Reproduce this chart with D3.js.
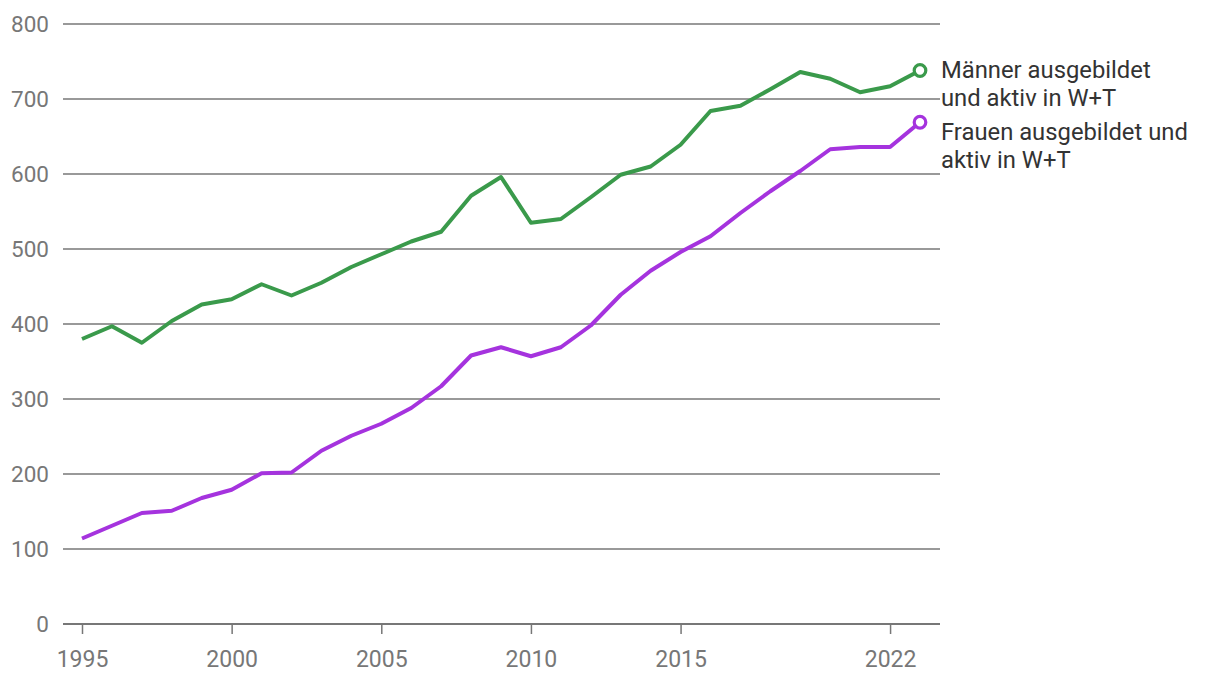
<!DOCTYPE html>
<html>
<head>
<meta charset="utf-8">
<script src="https://cdn.jsdelivr.net/npm/d3@7"></script>
<style>
  body { margin: 0; background: #fff; }
  svg { font-family: Roboto, sans-serif; }
</style>
</head>
<body>
<div id="chart"></div>
<script>
var years = d3.range(1995, 2024);
var maenner = [380, 397, 375, 404, 426, 433, 453, 438, 455, 476, 493, 510, 523, 571, 596,
               535, 540, 569, 599, 610, 639, 684, 691, 713, 736, 727, 709, 717, 738];
var frauen  = [114, 131, 148, 151, 168, 179, 201, 202, 231, 251, 267, 288, 317, 358, 369,
               357, 369, 398, 439, 471, 496, 517, 548, 577, 604, 633, 636, 636, 669];
var xTicks = [1995, 2000, 2005, 2010, 2015, 2022];
var yTicks = [0, 100, 200, 300, 400, 500, 600, 700, 800];
var seriesNames = [["Männer ausgebildet", "und aktiv in W+T"], ["Frauen ausgebildet und", "aktiv in W+T"]];
var seriesColors = ["#3a9a4b", "#a533de"];

var svg = d3.select("#chart").append("svg")
            .attr("width", 1220)
            .attr("height", 684);

var x = d3.scaleLinear().domain([1995, 2023]).range([82, 920]);
var y = d3.scaleLinear().domain([0, 800]).range([624, 24]);

// grid lines
svg.append("g").selectAll("line")
   .data(yTicks)
   .join("line")
   .attr("x1", 63)
   .attr("x2", 940)
   .attr("y1", function(d){ return y(d); })
   .attr("y2", function(d){ return y(d); })
   .attr("stroke", "#777")
   .attr("stroke-width", function(d){ return d === 0 ? 2 : 1.5; });

// y labels
svg.append("g").selectAll("text")
   .data(yTicks)
   .join("text")
   .attr("x", 49)
   .attr("y", function(d){ return y(d); })
   .attr("dy", "0.35em")
   .attr("text-anchor", "end")
   .attr("fill", "#777")
   .attr("font-size", 22.5)
   .text(function(d){ return d; });

// x axis
var xAxis = d3.axisBottom(x)
              .tickValues(xTicks)
              .tickFormat(d3.format("d"))
              .tickSize(10)
              .tickPadding(17);

var gx = svg.append("g")
            .attr("transform", "translate(0," + y(0) + ")")
            .call(xAxis);
gx.select(".domain").remove();
gx.selectAll(".tick line").attr("stroke", "#777").attr("stroke-width", 1.5);
gx.selectAll(".tick text")
  .attr("fill", "#777")
  .attr("font-size", 23)
  .attr("font-family", "Roboto, sans-serif");

// lines
var line = d3.line()
             .x(function(d){ return x(d[0]); })
             .y(function(d){ return y(d[1]); });

var prevBaseline = -Infinity;
[maenner, frauen].forEach(function(values, i){
	var pts = years.map(function(yr, j){ return [yr, values[j]]; });
	svg.append("path")
	   .datum(pts)
	   .attr("d", line)
	   .attr("fill", "none")
	   .attr("stroke", seriesColors[i])
	   .attr("stroke-width", 4)
	   .attr("stroke-linejoin", "round");

	var last = pts[pts.length - 1];
	svg.append("circle")
	   .attr("cx", x(last[0]))
	   .attr("cy", y(last[1]))
	   .attr("r", 5.8)
	   .attr("fill", "#fff")
	   .attr("stroke", seriesColors[i])
	   .attr("stroke-width", 3.2);

	// push label down if it would overlap the one above
	var baseline = Math.max(y(last[1]) + 7, prevBaseline + 34);
	var label = svg.append("text")
	   .attr("x", 941)
	   .attr("y", baseline)
	   .attr("fill", "#333")
	   .attr("font-size", 23.8);
	label.selectAll("tspan")
	   .data(seriesNames[i])
	   .join("tspan")
	   .attr("x", 941)
	   .attr("dy", function(d, k){ return k === 0 ? 0 : 28; })
	   .text(function(d){ return d; });
	prevBaseline = baseline + 28 * (seriesNames[i].length - 1);
});
</script>
</body>
</html>
